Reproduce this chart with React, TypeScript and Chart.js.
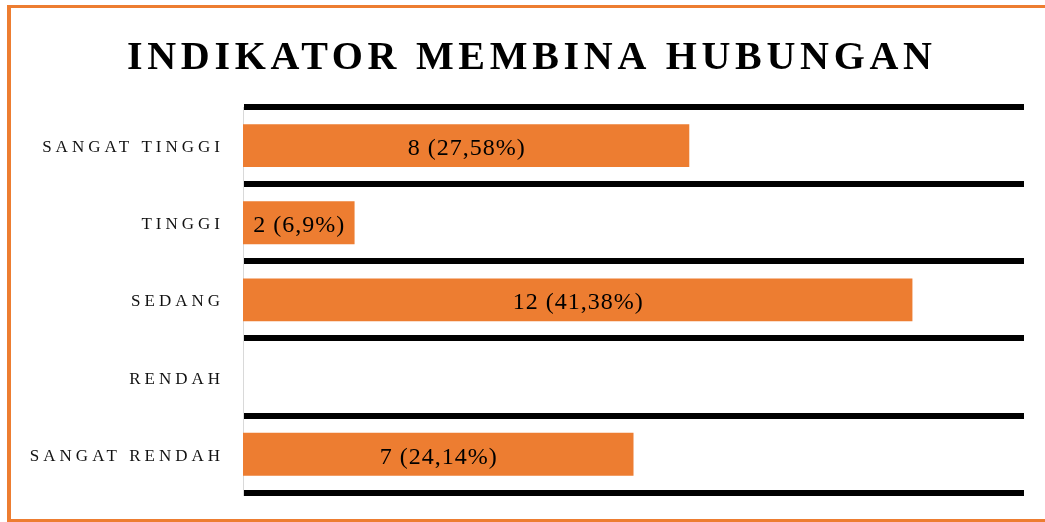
import React, { useEffect, useRef } from "react";
import { Chart, registerables } from "chart.js";

Chart.register(...registerables);

const TITLE = "INDIKATOR MEMBINA HUBUNGAN";
const categories = ["SANGAT TINGGI", "TINGGI", "SEDANG", "RENDAH", "SANGAT RENDAH"];
const counts = [8, 2, 12, 0, 7];
const percentLabels = ["27,58%", "6,9%", "41,38%", "", "24,14%"];
const X_MAX = 14;

const SERIF = "'Liberation Serif', 'Times New Roman', serif";
const ORANGE = "#ED7D31";

export default function App() {
  const canvasRef = useRef<HTMLCanvasElement | null>(null);

  useEffect(() => {
    const canvas = canvasRef.current;
    if (!canvas) return;

    const spacingPlugin = {
      id: "spacing",
      beforeLayout(chart: any) {
        chart.ctx.letterSpacing = "4px";
      },
      beforeDraw(chart: any) {
        chart.ctx.letterSpacing = "4px";
      },
    };

    const valueLabels = {
      id: "valueLabels",
      afterDatasetsDraw(chart: any) {
        const ctx = chart.ctx;
        const meta = chart.getDatasetMeta(0);
        ctx.save();
        ctx.letterSpacing = "1px";
        ctx.font = `24px ${SERIF}`;
        ctx.fillStyle = "#000";
        ctx.textAlign = "center";
        ctx.textBaseline = "middle";
        meta.data.forEach((bar: any, i: number) => {
          const v = counts[i];
          if (!v) return;
          const cx = (bar.base + bar.x) / 2;
          ctx.fillText(`${v} (${percentLabels[i]})`, cx + 0.5, bar.y + 3);
        });
        ctx.restore();
      },
    };

    const titlePlugin = {
      id: "customTitle",
      afterDraw(chart: any) {
        const ctx = chart.ctx;
        ctx.save();
        ctx.letterSpacing = "4.7px";
        ctx.font = `bold 40px ${SERIF}`;
        ctx.fillStyle = "#000";
        ctx.textAlign = "left";
        ctx.textBaseline = "alphabetic";
        ctx.fillText(TITLE, 127, 69);
        ctx.restore();
      },
    };

    const chart = new Chart(canvas, {
      type: "bar",
      data: {
        labels: categories,
        datasets: [
          {
            data: counts,
            backgroundColor: ORANGE,
            borderWidth: 0,
            categoryPercentage: 1,
            barPercentage: 0.555,
          },
        ],
      },
      options: {
        indexAxis: "y",
        animation: false,
        responsive: false,
        maintainAspectRatio: false,
        devicePixelRatio: 1,
        layout: { padding: { top: 107, bottom: 28, right: 21, left: 0 } },
        plugins: {
          legend: { display: false },
          title: { display: false },
          tooltip: { enabled: false },
        },
        scales: {
          x: {
            min: 0,
            max: X_MAX,
            display: false,
          },
          y: {
            offset: true,
            grid: {
              color: "#000",
              lineWidth: 6,
              offset: true,
              drawTicks: false,
            },
            border: { color: "#d9d9d9", width: 1 },
            ticks: {
              color: "#111",
              padding: 19,
              labelOffset: 2,
              font: { family: SERIF, size: 17 },
            },
            afterFit(scale: any) {
              scale.width = 243;
            },
          },
        },
      },
      plugins: [spacingPlugin, valueLabels, titlePlugin],
    });

    return () => chart.destroy();
  }, []);

  return (
    <div
      style={{
        position: "fixed",
        left: 0,
        top: 0,
        width: 1045,
        height: 522,
        background: "#fff",
        overflow: "hidden",
      }}
    >
      <canvas
        ref={canvasRef}
        width={1045}
        height={522}
        style={{ position: "absolute", left: 0, top: 0, width: 1045, height: 522 }}
      />
      <div
        style={{
          position: "absolute",
          left: 7,
          top: 5,
          width: 1100,
          height: 517,
          boxSizing: "border-box",
          borderTop: `3px solid ${ORANGE}`,
          borderBottom: `3px solid ${ORANGE}`,
          borderLeft: `4px solid ${ORANGE}`,
          pointerEvents: "none",
        }}
      />
    </div>
  );
}
